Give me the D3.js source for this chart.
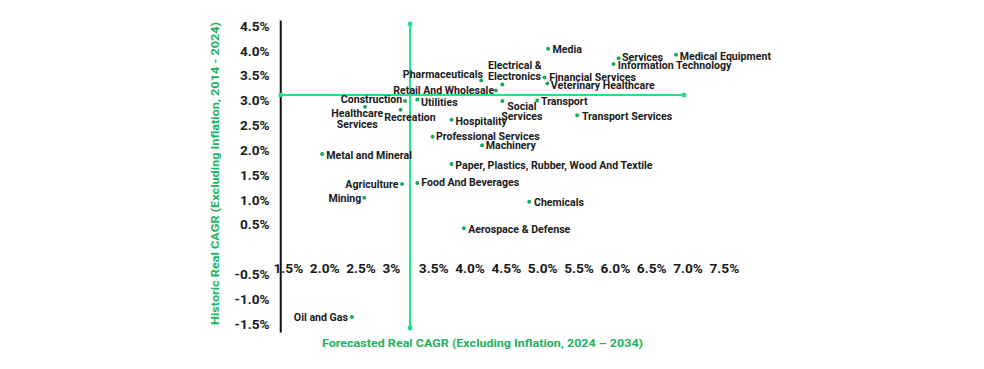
<!DOCTYPE html>
<html>
<head>
<meta charset="utf-8">
<script src="https://cdn.jsdelivr.net/npm/d3@7"></script>
<style>
  html, body { margin: 0; padding: 0; background: #ffffff; }
  svg { display: block; font-family: Roboto, "Noto Sans", sans-serif; }
</style>
</head>
<body>
<svg id="chart" width="984" height="369"></svg>
<script>
// ---------------- data ----------------
const categories = [
  "Media", "Services", "Medical Equipment", "Information Technology",
  "Electrical & Electronics", "Pharmaceuticals", "Financial Services",
  "Veterinary Healthcare", "Retail And Wholesale", "Social Services",
  "Transport", "Transport Services", "Construction", "Utilities",
  "Healthcare Services", "Recreation", "Hospitality", "Professional Services",
  "Machinery", "Metal and Mineral", "Paper, Plastics, Rubber, Wood And Textile",
  "Agriculture", "Food And Beverages", "Mining", "Chemicals",
  "Aerospace & Defense", "Oil and Gas"
];
// Forecasted real CAGR 2024-2034 (%)
const forecastCAGR = [
  5.08, 6.05, 6.84, 5.98,
  4.45, 4.16, 5.03,
  5.07, 4.36, 4.45,
  4.93, 5.48, 3.11, 3.28,
  2.56, 3.05, 3.75, 3.49,
  4.17, 1.97, 3.75,
  3.07, 3.28, 2.55, 4.82,
  3.92, 2.38
];
// Historic real CAGR 2014-2024 (%)
const historicCAGR = [
  4.05, 3.86, 3.93, 3.74,
  3.33, 3.41, 3.47,
  3.35, 3.21, 3.00,
  3.01, 2.71, 3.00, 3.03,
  2.88, 2.82, 2.62, 2.28,
  2.11, 1.93, 1.73,
  1.33, 1.35, 1.05, 0.97,
  0.44, -1.35
];
const xTickValues = [1.5, 2.0, 2.5, 3.0, 3.5, 4.0, 4.5, 5.0, 5.5, 6.0, 6.5, 7.0, 7.5];
const xTickLabels = ["1.5%", "2.0%", "2.5%", "3%", "3.5%", "4.0%", "4.5%", "5.0%", "5.5%", "6.0%", "6.5%", "7.0%", "7.5%"];
const yTickValues = [4.5, 4.0, 3.5, 3.0, 2.5, 2.0, 1.5, 1.0, 0.5, -0.5, -1.0, -1.5];
const yTickLabels = ["4.5%", "4.0%", "3.5%", "3.0%", "2.5%", "2.0%", "1.5%", "1.0%", "0.5%", "-0.5%", "-1.0%", "-1.5%"];
// reference (average) lines
const avgForecast = 3.18;
const avgHistoric = 3.12;
const xExtent = [1.40, 6.95];
const yExtent = [-1.57, 4.55];
const axisYExtent = [-1.66, 4.62];

const xTitle = "Forecasted Real CAGR (Excluding Inflation, 2024 \u2013 2034)";
const yTitle = "Historic Real CAGR (Excluding Inflation, 2014 - 2024)";

// ---------------- label placement (layout only) ----------------
const labelLayout = {
  "Media": {a: "start", dx: 4.4, dy: [0.6]},
  "Services": {a: "start", dx: 3.3, dy: [-0.7]},
  "Medical Equipment": {a: "start", dx: 3.6, dy: [1.3]},
  "Information Technology": {a: "start", dx: 4.3, dy: [1.7]},
  "Electrical & Electronics": {a: "start", dx: -14.4, dy: [-19.3, -8.3], lines: ["Electrical &", "Electronics"]},
  "Pharmaceuticals": {a: "end", dx: 1.7, dy: [-6.4]},
  "Financial Services": {a: "start", dx: 4.7, dy: [-0.6]},
  "Veterinary Healthcare": {a: "start", dx: 3.4, dy: [1.7]},
  "Retail And Wholesale": {a: "end", dx: -1.7, dy: [-0.2]},
  "Social Services": {a: "middle", dx: 19.5, dy: [5.3, 15.7], lines: ["Social", "Services"]},
  "Transport": {a: "start", dx: 3.7, dy: [1.3]},
  "Transport Services": {a: "start", dx: 4.7, dy: [1.4]},
  "Construction": {a: "end", dx: -2.7, dy: [-1.7]},
  "Utilities": {a: "start", dx: 3.7, dy: [2.7]},
  "Healthcare Services": {a: "middle", dx: -7.8, dy: [6.3, 17.3], lines: ["Healthcare", "Services"]},
  "Recreation": {a: "middle", dx: 9.4, dy: [8]},
  "Hospitality": {a: "start", dx: 4, dy: [1.3]},
  "Professional Services": {a: "start", dx: 3.3, dy: [0]},
  "Machinery": {a: "start", dx: 3.7, dy: [0.7]},
  "Metal and Mineral": {a: "start", dx: 4, dy: [1.7]},
  "Paper, Plastics, Rubber, Wood And Textile": {a: "start", dx: 3.7, dy: [1.3]},
  "Agriculture": {a: "end", dx: -3.6, dy: [0.6]},
  "Food And Beverages": {a: "start", dx: 4, dy: [-0.3]},
  "Mining": {a: "end", dx: -3, dy: [0.7]},
  "Chemicals": {a: "start", dx: 4.7, dy: [0.7]},
  "Aerospace & Defense": {a: "start", dx: 4.3, dy: [1.3]},
  "Oil and Gas": {a: "end", dx: -4, dy: [0.7]}
};

// ---------------- drawing ----------------
const svg = d3.select("#chart");
const x = d3.scaleLinear().domain([1.5, 7.5]).range([288, 724]);
const y = d3.scaleLinear().domain([0, 3]).range([250, 100.9]);

const lineGreen = "#1de487";
const dotGreen = "#18ad5c";
const titleGreen = "#22b35e";
const textDark = "#1a1a1a";

// stretched text helper
function stretchedText(g, tx, ty, str, size, sx, anchor) {
  return g.append("text")
    .attr("transform", `translate(${tx},${ty}) scale(${sx},1)`)
    .attr("text-anchor", anchor)
    .attr("font-size", size)
    .attr("font-weight", 700)
    .attr("fill", textDark)
    .text(str);
}

// y axis line (black)
svg.append("line")
  .attr("x1", x(xExtent[0])).attr("x2", x(xExtent[0]))
  .attr("y1", y(axisYExtent[1])).attr("y2", y(axisYExtent[0]))
  .attr("stroke", "#111").attr("stroke-width", 2);

// y tick labels
const yTickG = svg.append("g");
yTickValues.forEach((v, i) => {
  stretchedText(yTickG, x(xExtent[0]) - 11, y(v) + 4.3, yTickLabels[i], 12, 1.14, "end");
});

// x tick labels (left-aligned just before each tick, in the y = 0 band)
const xTickG = svg.append("g");
xTickValues.forEach((v, i) => {
  stretchedText(xTickG, x(v) - 14.5, 273.3, xTickLabels[i], 12, 1.14, "start");
});

// reference lines
const refG = svg.append("g");
refG.append("line")
  .attr("x1", x(avgForecast)).attr("x2", x(avgForecast))
  .attr("y1", y(yExtent[1])).attr("y2", y(yExtent[0]))
  .attr("stroke", lineGreen).attr("stroke-width", 2);
refG.append("line")
  .attr("x1", x(xExtent[0])).attr("x2", x(xExtent[1]))
  .attr("y1", y(avgHistoric)).attr("y2", y(avgHistoric))
  .attr("stroke", lineGreen).attr("stroke-width", 2);
const ends = [
  [avgForecast, yExtent[1]], [avgForecast, yExtent[0]],
  [xExtent[0], avgHistoric], [xExtent[1], avgHistoric]
];
refG.selectAll("rect.end").data(ends).join("rect")
  .attr("class", "end")
  .attr("x", d => x(d[0]) - 2.2).attr("y", d => y(d[1]) - 2.2)
  .attr("width", 4.4).attr("height", 4.4).attr("rx", 1)
  .attr("fill", lineGreen);

// points
const points = categories.map((c, i) => ({name: c, fx: forecastCAGR[i], hy: historicCAGR[i]}));
const ptG = svg.append("g");
ptG.selectAll("circle").data(points).join("circle")
  .attr("cx", d => x(d.fx)).attr("cy", d => y(d.hy))
  .attr("r", 2).attr("fill", dotGreen);

// labels
const lblG = svg.append("g");
points.forEach(p => {
  const L = labelLayout[p.name];
  const lines = L.lines || [p.name];
  lines.forEach((ln, j) => {
    stretchedText(lblG, x(p.fx) + L.dx, y(p.hy) + L.dy[j] + 3.6, ln, 10, 1.06, L.a);
  });
});

// axis titles
svg.append("text")
  .attr("x", 482.5).attr("y", 347)
  .attr("text-anchor", "middle")
  .attr("font-size", 11).attr("font-weight", 700)
  .attr("fill", titleGreen)
  .attr("textLength", 321).attr("lengthAdjust", "spacingAndGlyphs")
  .text(xTitle);

svg.append("text")
  .attr("transform", "translate(218.5,173.5) rotate(-90)")
  .attr("text-anchor", "middle")
  .attr("font-size", 11).attr("font-weight", 700)
  .attr("fill", titleGreen)
  .attr("textLength", 303).attr("lengthAdjust", "spacingAndGlyphs")
  .text(yTitle);
</script>
</body>
</html>
